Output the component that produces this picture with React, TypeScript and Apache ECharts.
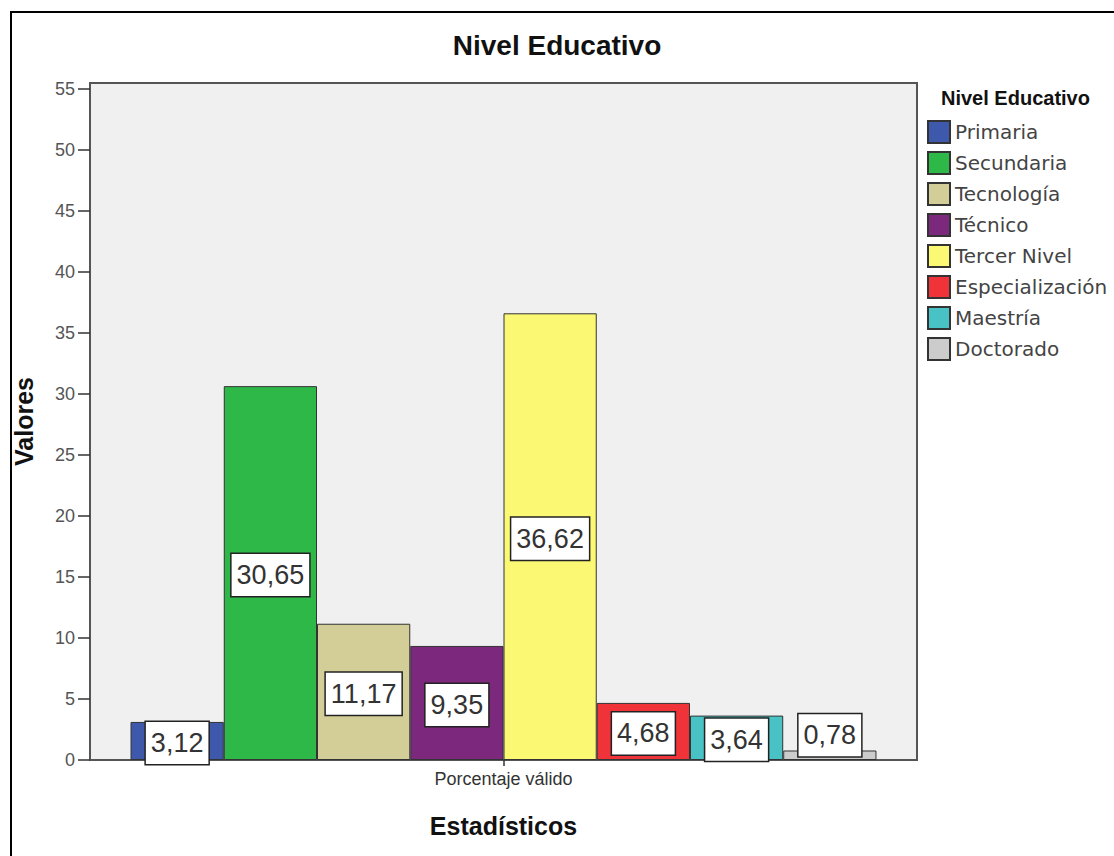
import React, { useEffect, useRef } from "react";
import * as echarts from "echarts";

// Education level shares (valid percentage)
const categories: string[] = ["Porcentaje válido"];
const levels: string[] = [
  "Primaria",
  "Secundaria",
  "Tecnología",
  "Técnico",
  "Tercer Nivel",
  "Especialización",
  "Maestría",
  "Doctorado",
];
const values: number[] = [3.12, 30.65, 11.17, 9.35, 36.62, 4.68, 3.64, 0.78];
const colors: string[] = [
  "#3E58AC",
  "#2EB848",
  "#D3CE97",
  "#7C287D",
  "#FBF873",
  "#EF3338",
  "#48C2C5",
  "#CCCCCC",
];
const yTicks: number[] = [0, 5, 10, 15, 20, 25, 30, 35, 40, 45, 50, 55];

const SANS = "'Liberation Sans', Arial, sans-serif";

export default function App() {
  const ref = useRef<HTMLDivElement>(null);

  useEffect(() => {
    document.body.style.margin = "0";
    if (!ref.current) return;
    const chart = echarts.init(ref.current, null, { renderer: "svg" });

    const series = levels.map((name, i) => ({
      name,
      type: "bar" as const,
      barGap: "0%",
      barCategoryGap: "9.8%",
      data: [values[i]],
      itemStyle: {
        color: colors[i],
        borderColor: "#333",
        borderWidth: 1,
      },
      label: {
        show: true,
        position: "inside" as const,
        offset: values[i] < 2 ? [0, -20] : [0, 2],
        formatter: (p: any) => Number(p.value).toFixed(2).replace(".", ","),
        fontFamily: SANS,
        fontSize: 27,
        lineHeight: 32,
        color: "#333",
        backgroundColor: "#fff",
        borderColor: "#222",
        borderWidth: 1.5,
        padding: [6, 5, 4, 5],
      },
    }));

    chart.setOption({
      animation: false,
      backgroundColor: "#fff",
      title: {
        text: "Nivel Educativo",
        left: "center",
        top: 26,
        textStyle: {
          fontFamily: SANS,
          fontSize: 28,
          fontWeight: "bold",
          color: "#111",
        },
      },
      legend: {
        orient: "vertical",
        left: 922,
        top: 115,
        icon: "rect",
        itemWidth: 22,
        itemHeight: 22,
        itemGap: 7,
        textStyle: {
          fontFamily: "'DejaVu Sans', sans-serif",
          fontSize: 20,
          color: "#444",
        },
        data: levels,
      },
      grid: {
        left: 90,
        right: 197,
        top: 83,
        bottom: 96,
        show: true,
        backgroundColor: "#F0F0F0",
        borderColor: "#555",
        borderWidth: 2,
      },
      xAxis: {
        type: "category",
        data: categories,
        name: "Estadísticos",
        nameLocation: "middle",
        nameGap: 53,
        nameTextStyle: {
          fontFamily: SANS,
          fontSize: 25,
          fontWeight: "bold",
          color: "#111",
        },
        axisLine: { show: true, lineStyle: { color: "#555", width: 2 } },
        axisTick: {
          show: true,
          alignWithLabel: true,
          length: 6,
          lineStyle: { color: "#333", width: 1.5 },
        },
        axisLabel: {
          fontFamily: SANS,
          fontSize: 18,
          color: "#333",
          margin: 10,
        },
      },
      yAxis: {
        type: "value",
        min: 0,
        max: 55.5,
        interval: 5,
        name: "Valores",
        nameLocation: "middle",
        nameGap: 54,
        nameTextStyle: {
          fontFamily: SANS,
          fontSize: 25,
          fontWeight: "bold",
          color: "#111",
        },
        splitLine: { show: false },
        axisLine: { show: true, lineStyle: { color: "#555", width: 2 } },
        axisTick: {
          show: true,
          length: 12,
          customValues: yTicks,
          lineStyle: { color: "#333", width: 1.5 },
        },
        axisLabel: {
          fontFamily: SANS,
          fontSize: 18,
          color: "#555",
          margin: 15,
          customValues: yTicks,
        },
      },
      graphic: [
        {
          type: "polyline",
          shape: {
            points: [
              [11, 856],
              [11, 12],
              [1114, 12],
            ],
          },
          style: { stroke: "#000", lineWidth: 2, fill: "none" },
          silent: true,
        },
        {
          type: "text",
          left: 941,
          top: 88,
          style: {
            text: "Nivel Educativo",
            fontFamily: SANS,
            fontSize: 20,
            fontWeight: "bold",
            fill: "#111",
          },
          silent: true,
        },
      ],
      series,
    });

    return () => chart.dispose();
  }, []);

  return (
    <div
      ref={ref}
      style={{ position: "fixed", left: 0, top: 0, width: 1114, height: 856 }}
    />
  );
}
